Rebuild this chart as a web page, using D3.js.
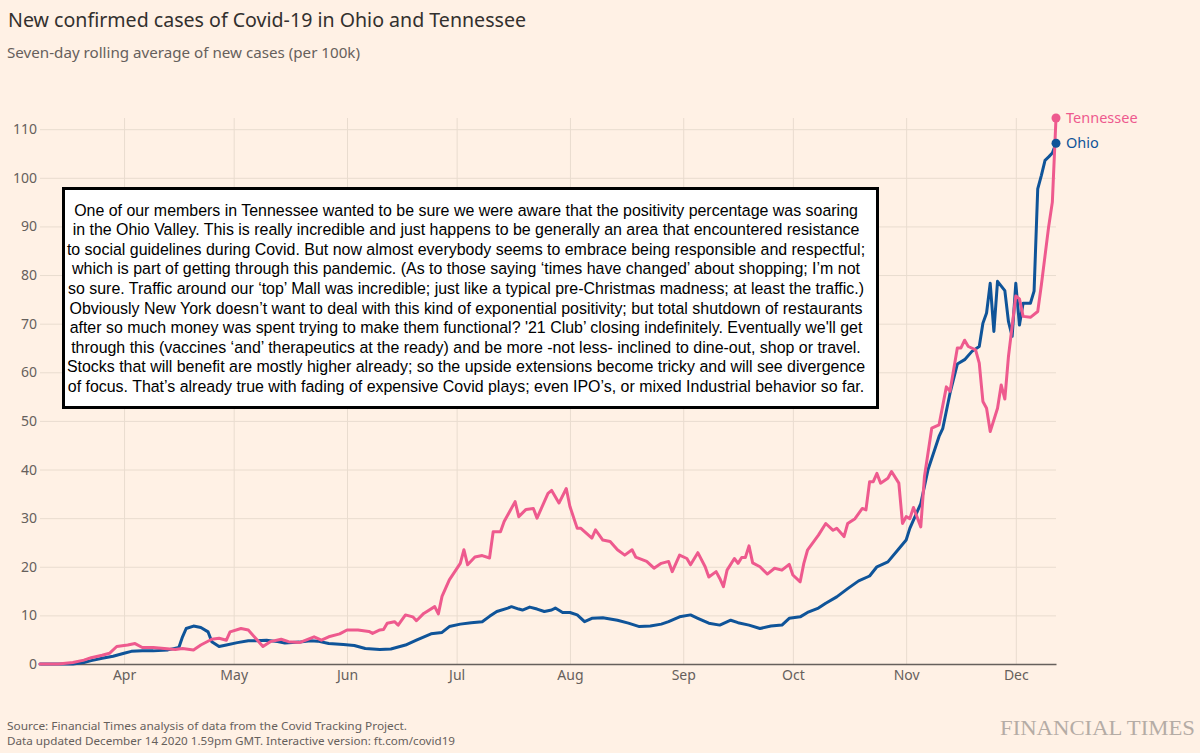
<!DOCTYPE html>
<html>
<head>
<meta charset="utf-8">
<script src="https://cdn.jsdelivr.net/npm/d3@7"></script>
<style>
  html, body { margin: 0; padding: 0; background: #fff1e5; }
  svg { display: block; }
</style>
</head>
<body>
<svg id="chart" width="1200" height="753"></svg>
<script>
// ---------------- DATA ----------------
const title = "New confirmed cases of Covid-19 in Ohio and Tennessee";
const subtitle = "Seven-day rolling average of new cases (per 100k)";
const sourceLines = [
  "Source: Financial Times analysis of data from the Covid Tracking Project.",
  "Data updated December 14 2020 1.59pm GMT. Interactive version: ft.com/covid19"
];
const seriesNames = ["Tennessee", "Ohio"];
const yTicks = [0, 10, 20, 30, 40, 50, 60, 70, 80, 90, 100, 110];
const xStart = "Mar 9", xEnd = "Dec 12";

const tennessee = [
  ["Mar 9",0],["Mar 14",0],["Mar 18",0.3],["Mar 21",0.8],["Mar 23",1.3],["Mar 26",1.8],["Mar 28",2.2],["Mar 30",3.6],
  ["Apr 2",3.9],["Apr 4",4.2],["Apr 6",3.4],["Apr 9",3.4],["Apr 12",3.2],["Apr 15",3.0],["Apr 17",3.2],["Apr 20",2.9],
  ["Apr 22",3.9],["Apr 25",5.1],["Apr 27",5.3],["Apr 29",4.9],["Apr 30",6.6],["May 3",7.3],["May 5",7.0],["May 7",5.3],
  ["May 9",3.6],["May 11",4.6],["May 14",5.1],["May 16",4.6],["May 19",4.4],["May 23",5.6],["May 25",4.9],["May 27",5.6],
  ["May 30",6.2],["Jun 1",7.0],["Jun 4",7.0],["Jun 7",6.7],["Jun 8",6.3],["Jun 10",7.0],["Jun 11",7.1],["Jun 12",8.4],
  ["Jun 14",8.7],["Jun 15",8.0],["Jun 17",10.1],["Jun 19",9.7],["Jun 20",8.9],["Jun 22",10.4],["Jun 25",11.8],["Jun 26",10.3],
  ["Jun 27",13.9],["Jun 29",17.3],["Jul 2",20.7],["Jul 3",23.5],["Jul 4",20.4],["Jul 6",22.0],["Jul 8",22.3],["Jul 10",21.8],
  ["Jul 11",27.2],["Jul 13",27.2],["Jul 14",29.3],["Jul 17",33.4],["Jul 18",30.3],["Jul 20",31.8],["Jul 22",32.0],["Jul 23",30.0],
  ["Jul 26",35.1],["Jul 27",35.7],["Jul 29",33.1],["Jul 31",36.1],["Aug 1",32.4],["Aug 3",27.9],["Aug 4",27.9],["Aug 7",25.9],
  ["Aug 8",27.6],["Aug 10",25.5],["Aug 12",25.2],["Aug 14",23.5],["Aug 16",22.4],["Aug 18",23.5],["Aug 19",22.0],["Aug 22",21.1],
  ["Aug 24",19.7],["Aug 26",20.7],["Aug 28",21.1],["Aug 29",19.0],["Aug 31",22.4],["Sep 2",21.7],["Sep 3",20.4],["Sep 5",22.9],
  ["Sep 7",20.0],["Sep 8",17.9],["Sep 10",19.0],["Sep 11",17.6],["Sep 12",15.9],["Sep 13",19.3],["Sep 15",21.7],["Sep 16",20.7],
  ["Sep 17",21.9],["Sep 18",21.9],["Sep 19",24.3],["Sep 20",20.8],["Sep 22",20.0],["Sep 24",18.5],["Sep 26",19.7],["Sep 28",19.3],
  ["Sep 30",20.5],["Oct 1",18.3],["Oct 3",16.9],["Oct 4",20.7],["Oct 5",23.4],["Oct 8",26.5],["Oct 10",28.9],["Oct 12",27.5],
  ["Oct 13",27.9],["Oct 15",26.2],["Oct 16",28.9],["Oct 18",29.9],["Oct 20",32.0],["Oct 21",31.7],["Oct 22",37.5],["Oct 23",37.5],
  ["Oct 24",39.2],["Oct 25",37.2],["Oct 27",38.2],["Oct 28",39.6],["Oct 30",37.2],["Oct 31",28.9],["Nov 1",30.3],["Nov 2",29.9],
  ["Nov 3",32.2],["Nov 5",28.2],["Nov 6",38.5],["Nov 8",48.5],["Nov 10",49.2],["Nov 12",57.0],["Nov 13",56.1],["Nov 15",65.0],
  ["Nov 16",65.0],["Nov 17",66.6],["Nov 18",65.3],["Nov 20",64.6],["Nov 21",61.9],["Nov 22",54.0],["Nov 23",52.6],["Nov 24",47.8],
  ["Nov 26",52.6],["Nov 27",57.4],["Nov 28",54.5],["Nov 29",63.3],["Dec 1",75.7],["Dec 2",75.1],["Dec 3",71.5],["Dec 5",71.3],
  ["Dec 7",72.5],["Dec 8",78.0],["Dec 9",84.0],["Dec 10",90.0],["Dec 11",95.0],["Dec 12",112.3]
];

const ohio = [
  ["Mar 9",0],["Mar 18",0],["Mar 21",0.3],["Mar 23",0.7],["Mar 26",1.2],["Mar 29",1.6],["Apr 1",2.2],["Apr 3",2.6],
  ["Apr 6",2.7],["Apr 9",2.7],["Apr 13",2.9],["Apr 16",3.4],["Apr 17",5.6],["Apr 18",7.3],["Apr 20",7.8],["Apr 22",7.5],
  ["Apr 24",6.6],["Apr 25",4.6],["Apr 27",3.6],["Apr 29",3.9],["May 2",4.4],["May 5",4.8],["May 7",4.8],["May 10",4.9],
  ["May 13",4.6],["May 15",4.3],["May 19",4.5],["May 22",4.8],["May 24",4.7],["May 27",4.2],["May 31",4.0],["Jun 3",3.8],
  ["Jun 6",3.2],["Jun 10",3.0],["Jun 13",3.1],["Jun 17",3.9],["Jun 20",4.9],["Jun 24",6.2],["Jun 27",6.5],["Jun 29",7.7],
  ["Jul 2",8.2],["Jul 5",8.5],["Jul 8",8.7],["Jul 10",9.8],["Jul 12",10.8],["Jul 15",11.5],["Jul 16",11.8],["Jul 18",11.3],
  ["Jul 19",11.1],["Jul 21",11.7],["Jul 23",11.3],["Jul 25",10.8],["Jul 27",11.1],["Jul 28",11.5],["Jul 30",10.6],["Aug 1",10.6],
  ["Aug 3",10.1],["Aug 5",8.7],["Aug 7",9.4],["Aug 10",9.5],["Aug 14",9.0],["Aug 17",8.4],["Aug 20",7.7],["Aug 23",7.8],
  ["Aug 26",8.2],["Aug 28",8.7],["Aug 31",9.7],["Sep 3",10.1],["Sep 5",9.4],["Sep 8",8.4],["Sep 11",8.0],["Sep 14",9.0],
  ["Sep 16",8.5],["Sep 19",8.0],["Sep 22",7.3],["Sep 25",7.8],["Sep 28",8.0],["Sep 30",9.4],["Oct 3",9.7],["Oct 5",10.6],
  ["Oct 8",11.5],["Oct 10",12.5],["Oct 13",13.8],["Oct 16",15.5],["Oct 19",17.1],["Oct 22",18.1],["Oct 24",20.0],["Oct 27",21.0],
  ["Oct 30",23.7],["Nov 1",25.5],["Nov 2",27.9],["Nov 5",33.0],["Nov 7",40.0],["Nov 10",46.8],["Nov 11",48.4],["Nov 13",55.7],
  ["Nov 15",61.7],["Nov 17",62.6],["Nov 19",64.3],["Nov 21",65.3],["Nov 22",70.1],["Nov 23",72.2],["Nov 24",78.3],["Nov 25",68.4],
  ["Nov 26",78.7],["Nov 28",76.8],["Nov 29",70.4],["Nov 30",67.4],["Dec 1",78.3],["Dec 2",69.7],["Dec 3",74.2],["Dec 5",74.2],
  ["Dec 6",76.7],["Dec 7",97.7],["Dec 8",100.5],["Dec 9",103.6],["Dec 10",104.3],["Dec 11",105.1],["Dec 12",107.1]
];

const noteLines = [
  "One of our members in Tennessee wanted to be sure we were aware that the positivity percentage was soaring",
  "in the Ohio Valley. This is really incredible and just happens to be generally an area that encountered resistance",
  "to social guidelines during Covid. But now almost everybody seems to embrace being responsible and respectful;",
  "which is part of getting through this pandemic. (As to those saying \u2018times have changed\u2019 about shopping; I\u2019m not",
  "so sure. Traffic around our \u2018top\u2019 Mall was incredible; just like a typical pre-Christmas madness; at least the traffic.)",
  "Obviously New York doesn\u2019t want to deal with this kind of exponential positivity; but total shutdown of restaurants",
  "after so much money was spent trying to make them functional? '21 Club\u2019 closing indefinitely. Eventually we'll get",
  "through this (vaccines \u2018and\u2019 therapeutics at the ready) and be more -not less- inclined to dine-out, shop or travel.",
  "Stocks that will benefit are mostly higher already; so the upside extensions become tricky and will see divergence",
  "of focus. That\u2019s already true with fading of expensive Covid plays; even IPO\u2019s, or mixed Industrial behavior so far."
];

// ---------------- STYLE ----------------
const colors = { Tennessee: "#ee5a8e", Ohio: "#0f5499" };
const bg = "#fff1e5", gridColor = "#e9dccf", axisColor = "#66605c", textGrey = "#66605c";
const sans = "'Noto Sans', 'Open Sans', sans-serif";

// ---------------- CHART ----------------
const parse = s => d3.timeParse("%b %d %Y")(s + " 2020");
const tnData = tennessee.map(([d, v]) => ({ date: parse(d), value: v }));
const ohData = ohio.map(([d, v]) => ({ date: parse(d), value: v }));

const plot = { left: 40, right: 1056, top: 118, bottom: 664 };
const svg = d3.select("#chart");
svg.append("rect").attr("width", 1200).attr("height", 753).attr("fill", bg);

const x = d3.scaleTime().domain([parse(xStart), parse(xEnd)]).range([plot.left, plot.right]);
const yMax = d3.max(tnData.concat(ohData), d => d.value);
const y = d3.scaleLinear().domain([0, yMax]).range([plot.bottom, plot.top]);

// y axis with horizontal gridlines
const yAxis = svg.append("g").attr("transform", `translate(${plot.left},0)`)
  .call(d3.axisLeft(y).tickValues(yTicks).tickSize(-(plot.right - plot.left)).tickPadding(3));
yAxis.select(".domain").remove();
yAxis.selectAll(".tick line").attr("stroke", gridColor).attr("stroke-width", 1);
yAxis.selectAll(".tick text").attr("fill", textGrey).attr("font-family", sans).attr("font-size", 14);

// x axis with vertical gridlines
const xAxis = svg.append("g").attr("transform", `translate(0,${plot.bottom})`)
  .call(d3.axisBottom(x).ticks(d3.timeMonth.every(1)).tickFormat(d3.timeFormat("%b"))
    .tickSizeInner(-(plot.bottom - plot.top)).tickSizeOuter(0).tickPadding(6));
xAxis.selectAll(".tick").filter(d => d < parse("Apr 1")).remove();
xAxis.selectAll(".tick line").attr("stroke", gridColor).attr("stroke-width", 1);
xAxis.selectAll(".tick text").attr("fill", textGrey).attr("font-family", sans).attr("font-size", 14);
xAxis.select(".domain").attr("stroke", axisColor).attr("stroke-width", 1.3).raise();

// lines
const line = d3.line().x(d => x(d.date)).y(d => y(d.value));
const seriesData = { Ohio: ohData, Tennessee: tnData };
["Ohio", "Tennessee"].forEach(name => {
  svg.append("path").datum(seriesData[name])
    .attr("fill", "none").attr("stroke", colors[name]).attr("stroke-width", 3)
    .attr("stroke-linejoin", "round").attr("stroke-linecap", "round")
    .attr("d", line);
});

// end dots + labels
seriesNames.forEach(name => {
  const last = seriesData[name][seriesData[name].length - 1];
  svg.append("circle").attr("cx", x(last.date)).attr("cy", y(last.value)).attr("r", 4.5).attr("fill", colors[name]);
  svg.append("text").attr("x", x(last.date) + 10).attr("y", y(last.value)).attr("dy", "0.35em")
    .attr("fill", colors[name]).attr("font-family", sans).attr("font-size", 14.5).text(name);
});

// title & subtitle
svg.append("text").attr("x", 8).attr("y", 27).attr("fill", "#33302e").attr("font-family", sans)
  .attr("font-size", 19).attr("textLength", 518).attr("lengthAdjust", "spacingAndGlyphs").text(title);
svg.append("text").attr("x", 7).attr("y", 58).attr("fill", textGrey).attr("font-family", sans)
  .attr("font-size", 14).attr("textLength", 353).attr("lengthAdjust", "spacingAndGlyphs").text(subtitle);

// note box
const box = { x: 63.5, y: 188.5, w: 814, h: 219 };
svg.append("rect").attr("x", box.x).attr("y", box.y).attr("width", box.w).attr("height", box.h)
  .attr("fill", "#ffffff").attr("stroke", "#000").attr("stroke-width", 3);
const noteG = svg.append("g");
const noteFont = "'Liberation Sans', Arial, Helvetica, sans-serif";
const probe = noteG.append("text").attr("font-family", noteFont).attr("font-size", 15).text(noteLines[0]);
const w15 = probe.node().getComputedTextLength();
probe.remove();
const noteSize = 15 * 784 / w15;
noteLines.forEach((t, i) => {
  noteG.append("text").attr("x", 466).attr("y", 215.7 + i * 19.56).attr("text-anchor", "middle")
    .attr("font-family", noteFont).attr("font-size", noteSize).attr("fill", "#000").text(t);
});

// footer
const srcW = [400, 448];
sourceLines.forEach((t, i) => {
  svg.append("text").attr("x", 7).attr("y", 730 + i * 14.5).attr("fill", textGrey).attr("font-family", sans)
    .attr("font-size", 11.5).attr("textLength", srcW[i]).attr("lengthAdjust", "spacingAndGlyphs").text(t);
});
svg.append("text").attr("x", 1000).attr("y", 735).attr("fill", "#b5aca5")
  .attr("font-family", "'Liberation Serif', 'DejaVu Serif', serif").attr("font-size", 22)
  .attr("textLength", 195).attr("lengthAdjust", "spacingAndGlyphs").text("FINANCIAL TIMES");
</script>
</body>
</html>
